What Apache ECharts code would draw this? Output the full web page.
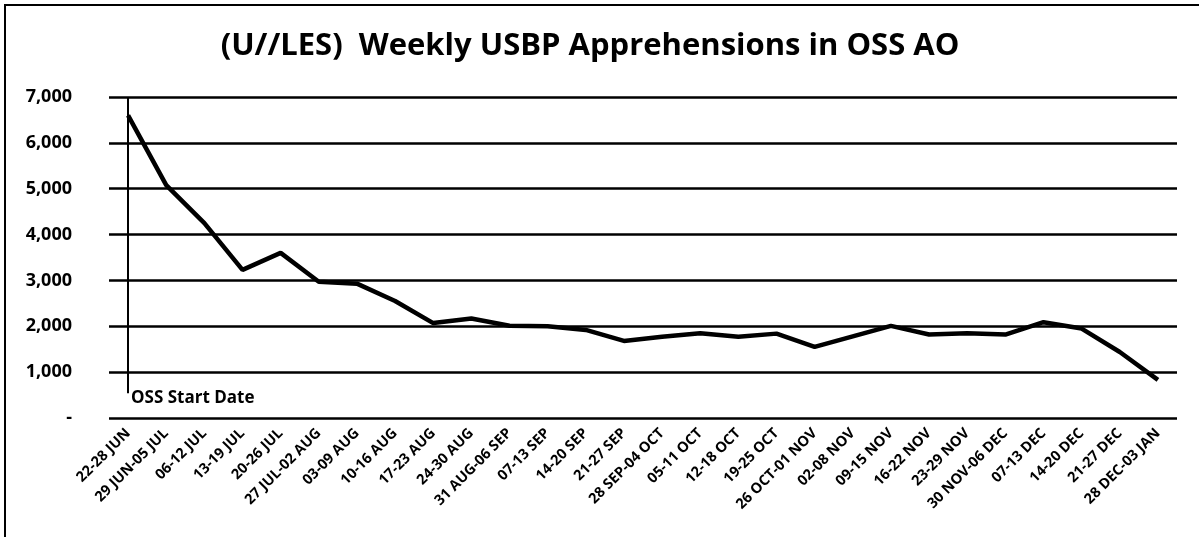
<!DOCTYPE html>
<html>
<head>
<meta charset="utf-8">
<script src="https://cdn.jsdelivr.net/npm/echarts@6/dist/echarts.min.js"></script>
<style>
html,body{margin:0;padding:0;background:#fff;}
#chart{width:1199px;height:537px;}
</style>
</head>
<body>
<div id="chart"></div>
<script>
const titleText = "(U//LES)  Weekly USBP Apprehensions in OSS AO";
const categories = ["22-28 JUN","29 JUN-05 JUL","06-12 JUL","13-19 JUL","20-26 JUL","27 JUL-02 AUG","03-09 AUG","10-16 AUG","17-23 AUG","24-30 AUG","31 AUG-06 SEP","07-13 SEP","14-20 SEP","21-27 SEP","28 SEP-04 OCT","05-11 OCT","12-18 OCT","19-25 OCT","26 OCT-01 NOV","02-08 NOV","09-15 NOV","16-22 NOV","23-29 NOV","30 NOV-06 DEC","07-13 DEC","14-20 DEC","21-27 DEC","28 DEC-03 JAN"];
const apprehensions = [6600,5080,4250,3230,3600,2970,2930,2550,2070,2170,2010,2000,1920,1680,1770,1850,1770,1840,1550,1780,2010,1820,1850,1820,2090,1950,1440,830];
const startLabel = "OSS Start Date";
const yTicks = {min:0, max:7000, interval:1000};

const chart = echarts.init(document.getElementById('chart'), null, {renderer:'canvas'});
const font = '"Open Sans", "Noto Sans", sans-serif';
chart.setOption({
  animation:false,
  backgroundColor:'#fff',
  title:{
    text:titleText, left:585, textAlign:'center', top:26,
    textStyle:{fontFamily:font, fontWeight:'bold', fontSize:31, color:'#000'}
  },
  graphic:[{
    type:'rect', shape:{x:5, y:5, width:1220, height:560},
    style:{fill:'none', stroke:'#000', lineWidth:2}, silent:true
  }],
  grid:{left:109, right:22, top:97, bottom:119, containLabel:false},
  xAxis:{
    type:'category', data:categories, boundaryGap:true,
    axisLine:{show:false}, axisTick:{show:false},
    axisLabel:{rotate:45, interval:0, margin:13, fontFamily:font, fontWeight:'bold', fontSize:14.5, color:'#000'},
    splitLine:{show:false}
  },
  yAxis:{
    type:'value', min:yTicks.min, max:yTicks.max, interval:yTicks.interval,
    axisLine:{show:false}, axisTick:{show:false},
    axisLabel:{
      margin:37, fontFamily:font, fontWeight:'bold', fontSize:18, color:'#000',
      formatter:function(v){ return v===0 ? '-' : v.toLocaleString('en-US'); }
    },
    splitLine:{show:true, lineStyle:{color:'#000', width:2.5}}
  },
  series:[{
    type:'line', data:apprehensions, symbol:'none',
    lineStyle:{color:'#000', width:4.5},
    markLine:{
      silent:true, symbol:'none',
      lineStyle:{color:'#000', width:2, type:'solid'},
      label:{show:false},
      data:[[{coord:[0,7000]},{coord:[0,540]}]]
    },
    markPoint:{
      silent:true, symbol:'circle', symbolSize:0,
      label:{show:true, formatter:startLabel, position:'right', offset:[-2,0],
        fontFamily:font, fontWeight:'bold', fontSize:17, color:'#000'},
      data:[{coord:[0,430]}]
    }
  }]
});
</script>
</body>
</html>
